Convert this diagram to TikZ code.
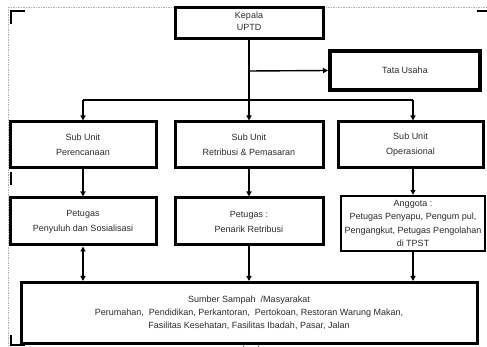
\documentclass[tikz,border=0pt]{standalone}
\usepackage{fontspec}
\setmainfont{Liberation Sans}
\usetikzlibrary{arrows.meta}
\definecolor{txt}{HTML}{2A2A2A}
\begin{document}
\begin{tikzpicture}[x=1pt,y=-1pt,
  box/.style={draw=black, line width=3pt, inner sep=0pt, font=\fontsize{9}{15}\selectfont, text=txt, align=center},
  conn/.style={line width=1.4pt, -{Triangle[length=5pt,width=5pt]}},
  both/.style={line width=1.4pt, {Triangle[length=5pt,width=5pt]}-{Triangle[length=5pt,width=5pt]}},
  cornermark/.style={line width=2pt, black}
]
\useasboundingbox (0,0) rectangle (487,347);
% frame of the picture (selection border)
\draw[gray!60, line width=0.4pt, dash pattern=on 1.5pt off 1pt] (8,7) -- (487,7);
\draw[gray!60, line width=0.4pt, dash pattern=on 1.5pt off 1pt] (8,7) -- (8,347);
\draw[cornermark] (11,24) -- (11,11) -- (25,11);
\draw[cornermark] (477,11) -- (487,11);
\draw[cornermark] (11,172) -- (11,185);
\draw[cornermark] (11,335) -- (11,345) -- (25,345);
\fill[black] (242,6) rectangle (259,9);
\draw[gray, line width=0.8pt] (243,347) -- (243,344) -- (258,344) -- (258,347);

% boxes
\node[box, minimum width=148pt, minimum height=31pt] (kepala) at (249,23.5) {};
\node[font=\fontsize{9}{12}\selectfont, text=txt, align=center] (kt) at (249,21) {Kepala\\UPTD};
\node[box, line width=4pt, minimum width=150pt, minimum height=39pt] (tu) at (405,70.5) {Tata Usaha};

\node[box, minimum width=146pt, minimum height=46pt] (s1) at (83,145) {Sub Unit\\Perencanaan};
\node[box, minimum width=148pt, minimum height=46pt] (s2) at (249,145) {Sub Unit\\Retribusi \& Pemasaran};
\node[box, minimum width=145pt, minimum height=46pt] (s3) at (410.5,145) {Sub Unit\\Operasional};

\node[box, minimum width=146pt, minimum height=47pt] (p1) at (83,221.5) {Petugas\\Penyuluh dan Sosialisasi};
\node[box, minimum width=148pt, minimum height=47pt] (p2) at (249,221.5) {Petugas :\\Penarik Retribusi};
\node[box, line width=2.4pt, minimum width=144pt, minimum height=55pt, font=\fontsize{9}{13.5}\selectfont] (p3) at (413,223.5) {Anggota :\\Petugas Penyapu, Pengum pul,\\Pengangkut, Petugas Pengolahan\\di TPST};

\node[box, minimum width=456pt, minimum height=61pt, font=\fontsize{9}{13}\selectfont] (sm) at (249,313) {Sumber Sampah \ /Masyarakat\\Perumahan, \ Pendidikan, Perkantoran, \ Pertokoan, Restoran Warung Makan,\\Fasilitas Kesehatan, Fasilitas Ibadah, Pasar, Jalan};

% connectors
\coordinate (j) at (249,100);
\coordinate (jl) at (83,100);
\coordinate (jr) at (413,100);
\coordinate (jt) at (249,71);
\draw[line width=1.4pt] (kepala.south) -- (j);
\draw[conn] (jt) -- (tu.west);
\draw[line width=1.4pt] (jl) -- (jr);
\draw[conn] (jl) -- (jl |- s1.north);
\draw[conn] (j) -- (s2.north);
\draw[conn] (jr) -- (jr |- s3.north);

\draw[conn] (s1.south) -- (p1.north);
\draw[conn] (s2.south) -- (p2.north);
\draw[conn] (s3.south -| jr) -- (jr |- p3.north);

\draw[both] (p1.south) -- (p1.south |- sm.north);
\draw[conn] (p2.south) -- (sm.north);
\draw[conn] (p3.south -| jr) -- (jr |- sm.north);
\end{tikzpicture}
\end{document}
